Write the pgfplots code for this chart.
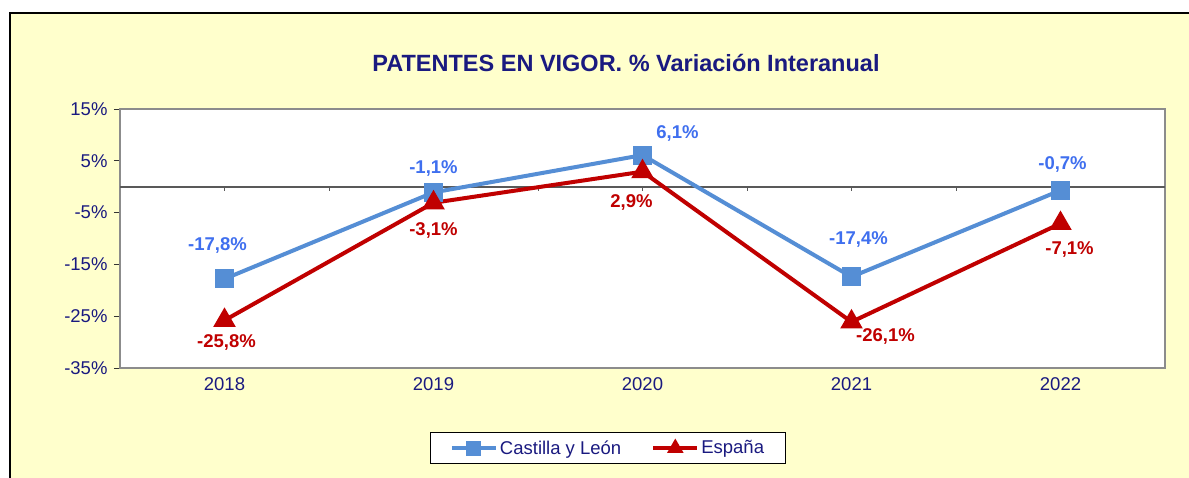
\documentclass[border=0pt]{standalone}
\usepackage{pgfplots}
\pgfplotsset{compat=1.18}
\usepackage{pgfplotstable}
\usepackage{fontspec}
\setmainfont{Liberation Sans}
\definecolor{bg}{HTML}{FFFFCC}
\definecolor{navy}{HTML}{1A1A80}
\definecolor{cyl}{HTML}{558ED5}
\definecolor{cyllab}{HTML}{3F6FEF}
\definecolor{esp}{HTML}{C00000}
\definecolor{framec}{HTML}{8C8C8C}

\pgfplotstableread{
x y dx dy
0 -17.8 -7 33
1 -1.1 0 24
2 6.1 35 22
3 -17.4 7 37
4 -0.7 2 26
}\cyltab
\pgfplotstableread{
x y dx dy
0 -25.8 2 -22
1 -3.1 0 -28
2 2.9 -11 -31
3 -26.1 34 -15
4 -7.1 9 -26
}\esptab

\begin{document}
\begin{tikzpicture}[x=1pt,y=1pt]
\useasboundingbox (0,0) rectangle (1189,-477);
\clip (0,0) rectangle (1189,-477);
\fill[white] (0,0) rectangle (1189,-477);
\draw[line width=2.5pt, fill=bg] (10,-13) rectangle (1210,-500);
\node[font=\bfseries\fontsize{23.5}{28}\selectfont, text=navy] at (626,-63) {PATENTES EN VIGOR. \% Variación Interanual};
\begin{axis}[
  at={(120pt,-368pt)}, anchor=south west,
  scale only axis, width=1045pt, height=259pt,
  xmin=-0.5, xmax=4.5, ymin=-35, ymax=15,
  axis background/.style={fill=white},
  axis line style={framec, line width=2pt},
  ytick={-35,-25,-15,-5,5,15},
  xtick={0,1,2,3,4}, xticklabels={2018,2019,2020,2021,2022},
  ytick pos=left, ytick align=outside,
  xtick style={draw=none},
  ytick style={black!80, line width=1pt},
  major tick length=6pt,
  /pgf/number format/assume math mode=true,
  yticklabel={\pgfmathprintnumber{\tick}\%},
  ticklabel style={font=\fontsize{18.5}{22}\selectfont, text=navy},
  xticklabel style={yshift=-6pt},
  yticklabel style={xshift=-3pt},
  clip=false,
  legend style={at={(axis description cs:0.467,-0.309)}, anchor=center,
    legend columns=2, draw=black, line width=1pt, fill=white,
    font=\fontsize{18.5}{22}\selectfont, text=navy,
    inner xsep=19pt, inner ysep=6pt,
    /tikz/every even column/.append style={column sep=28pt}},
  legend image post style={mark size=5.5pt},
  legend image code/.code={\draw[mark repeat=2, mark phase=2] plot coordinates {(0pt,0pt) (22pt,0pt) (44pt,0pt)};},
  visualization depends on={\thisrow{dx}\as\dx},
  visualization depends on={\thisrow{dy}\as\dy},
  nodes near coords={\pgfmathprintnumber[fixed,precision=1,zerofill,use comma]{\pgfplotspointmeta}\%},
  nodes near coords style={anchor=center, xshift=\dx pt, yshift=\dy pt, font=\bfseries\fontsize{18.5}{22}\selectfont},
]
\draw[black!65, line width=2pt] (axis cs:-0.5,0) -- (axis cs:4.5,0);
\pgfplotsinvokeforeach{0,0.5,1,1.5,2,2.5,3,3.5,4}{\draw[black!65, line width=1pt] (axis cs:#1,0) -- ++(0pt,-4pt);}
\addplot[cyl, line width=4pt, mark=square*, mark size=7.5pt, mark options={solid, fill=cyl},
  nodes near coords style={text=cyllab}] table[x=x,y=y] {\cyltab};
\addlegendentry{Castilla y León}
\addplot[esp, line width=4pt, mark=triangle*, mark size=9pt, mark options={solid, fill=esp},
  nodes near coords style={text=esp}] table[x=x,y=y] {\esptab};
\addlegendentry{España}
\end{axis}
\end{tikzpicture}
\end{document}
